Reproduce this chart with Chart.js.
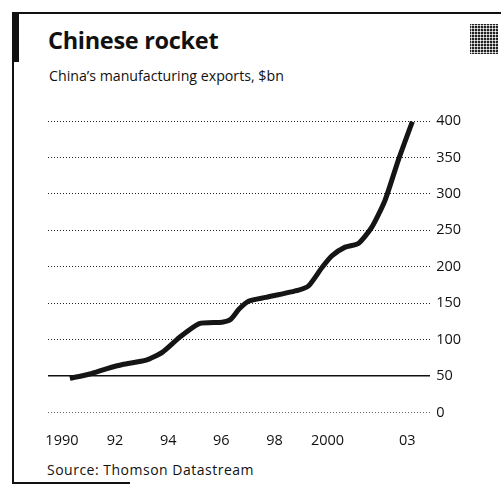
<!DOCTYPE html>
<html>
<head>
<meta charset="utf-8">
<script src="https://cdn.jsdelivr.net/npm/chart.js@4.4.0/dist/chart.umd.min.js"></script>
<style>
  html, body { margin: 0; padding: 0; background: #fff; }
  body { width: 501px; height: 489px; position: relative; overflow: hidden; font-family: "Open Sans", "DejaVu Sans", sans-serif; color: #111; }
  #wrap { position: absolute; left: 0; top: 0; width: 501px; height: 489px; }
  .frame-top { position: absolute; left: 12px; top: 12px; width: 489px; height: 2px; background: #111; }
  .frame-left { position: absolute; left: 12px; top: 12px; width: 2px; height: 472px; background: #111; }
  .frame-bar { position: absolute; left: 12px; top: 12px; width: 7px; height: 50px; background: #111; }
  .frame-bottom { position: absolute; left: 12px; top: 482px; width: 118px; height: 2px; background: #111; }
  .logo { position: absolute; left: 470px; top: 24px; width: 28px; height: 30px;
          background-color: #222;
          background-image: radial-gradient(circle, #fff 0.9px, transparent 1.2px);
          background-size: 3px 3px; }
  .title { position: absolute; left: 48px; top: 24px; font-size: 23.5px; font-weight: 700; letter-spacing: -0.3px; }
  .subtitle { position: absolute; left: 49px; top: 66px; font-size: 14.2px; }
  .source { position: absolute; left: 47px; top: 460px; font-size: 14px; letter-spacing: 0.5px; }
</style>
</head>
<body>
<div class="frame-top"></div>
<div class="frame-left"></div>
<div class="frame-bar"></div>
<div class="frame-bottom"></div>
<div class="logo"></div>
<div class="title">Chinese rocket</div>
<div class="subtitle">China’s manufacturing exports, $bn</div>
<div class="source">Source: Thomson Datastream</div>
<div id="wrap"><canvas id="c" width="501" height="489"></canvas></div>
<script>
// Data (time in years, value in $bn)
const years = [1990.30, 1991.05, 1991.67, 1992.28, 1993.17, 1993.79, 1994.42, 1995.17, 1996.03, 1996.36,
               1996.67, 1997.04, 1997.67, 1998.91, 1999.29, 1999.79, 2000.16, 2000.66, 2001.16, 2001.66,
               2002.16, 2002.66, 2003.19];
const exportsBn = [47, 53, 60, 66, 72, 83, 103, 122, 124, 128,
                   142, 153, 158, 168, 174, 199, 215, 227, 232, 254,
                   291, 346, 399];
const xTickYears = [1990, 1992, 1994, 1996, 1998, 2000, 2003];
const xTickLabels = ["1990", "92", "94", "96", "98", "2000", "03"];
const yTicks = [0, 50, 100, 150, 200, 250, 300, 350, 400];

const points = years.map((y, i) => ({ x: y, y: exportsBn[i] }));
const tickFont = { family: "'Open Sans', 'DejaVu Sans', sans-serif", size: 14.5 };

new Chart(document.getElementById('c'), {
  type: 'line',
  data: {
    datasets: [{
      data: points,
      borderColor: '#151515',
      borderWidth: 5,
      pointRadius: 0,
      tension: 0.2,
      fill: false
    }]
  },
  options: {
    responsive: false,
    animation: false,
    events: [],
    layout: { padding: { left: 48, right: 34, top: 121, bottom: 27 } },
    plugins: { legend: { display: false }, tooltip: { enabled: false } },
    scales: {
      x: {
        type: 'linear',
        min: 1989.476,
        max: 2003.86,
        afterBuildTicks: (axis) => { axis.ticks = xTickYears.map(v => ({ value: v })); },
        ticks: {
          color: '#111',
          font: tickFont,
          padding: 12,
          maxRotation: 0,
          autoSkip: false,
          callback: (v) => { const i = xTickYears.indexOf(v); return i >= 0 ? xTickLabels[i] : ''; }
        },
        grid: { display: false },
        border: { display: false }
      },
      y: {
        position: 'right',
        min: 0,
        max: 400,
        afterBuildTicks: (axis) => { axis.ticks = yTicks.map(v => ({ value: v })); },
        ticks: { color: '#111', font: tickFont, padding: 6 },
        grid: {
          drawTicks: false,
          color: (ctx) => ctx.tick && ctx.tick.value === 50 ? '#111' : (ctx.tick && ctx.tick.value === 0 ? '#666' : '#222'),
          lineWidth: (ctx) => ctx.tick && ctx.tick.value === 50 ? 1.5 : 1
        },
        border: {
          display: false,
          dash: (ctx) => ctx.tick && ctx.tick.value === 50 ? [] : [1, 2]
        }
      }
    }
  }
});
</script>
</body>
</html>
